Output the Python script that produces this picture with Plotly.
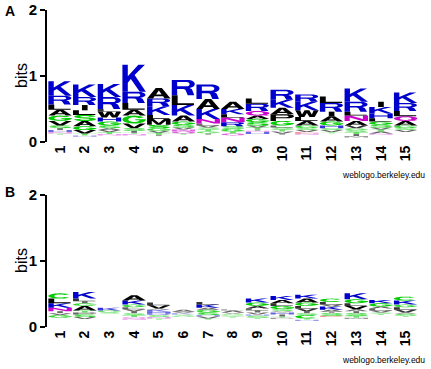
import math
import plotly.graph_objects as go

# ---------------- data ----------------
positions = list(range(1, 16))
tick_labels = [str(p) for p in positions]

# Panel A: residues per position (top -> bottom) and their heights (bits)
a_letters = ["KRLAGVSIHNT", "KRILSAGVTH", "KRLWHGSAVTN", "KRLAGVSITN", "ARKLMSGVTI",
             "RLKAGSVNQT", "RAKNLVSTGI", "AKLNRSGTQ", "LRQAGSVTINH", "RKAPGLSTVI",
             "RKWLAGSVEN", "LRIAGHSVT", "KRLNAVGSTIM", "IKHLGSVTAN", "KRLQAGSV"]
a_heights = [[.22, .13, .08, .09, .08, .07, .04, .03, .03, .02, .02],
             [.19, .12, .08, .07, .09, .08, .06, .05, .03, .02],
             [.20, .18, .04, .09, .06, .06, .04, .03, .03, .03, .02],
             [.41, .17, .10, .09, .12, .07, .04, .03, .02, .02],
             [.16, .12, .13, .06, .09, .05, .04, .03, .03, .02],
             [.23, .15, .16, .09, .05, .04, .03, .03, .03, .02],
             [.22, .15, .15, .07, .03, .03, .03, .03, .03, .02],
             [.11, .08, .05, .07, .06, .04, .04, .03, .03],
             [.08, .11, .07, .05, .05, .05, .03, .03, .02, .02, .03],
             [.15, .12, .10, .10, .07, .03, .03, .03, .03, .02],
             [.11, .13, .10, .06, .07, .04, .03, .03, .02, .02],
             [.10, .13, .07, .08, .06, .04, .03, .03, .02],
             [.20, .15, .06, .08, .07, .04, .03, .03, .03, .03, .02],
             [.08, .10, .07, .05, .05, .04, .03, .03, .03, .02],
             [.16, .12, .08, .07, .07, .04, .03, .03]]
a_base = [.11, .08, .10, .10, .09, .11, .11, .10, .12, .11, .11, .13, .07, .11, .15]

# Panel B
b_letters = ["CLKNIVG", "KLIGATPSV", "KGS", "AKGLVISTQN", "LVAKHRSNT",
             "AVKSG", "LKAGSHVT", "LAVSGT", "KGALIVHST", "KALGSVHITP",
             "KAGLVISCTH", "CLVKAISE", "KGLVAISTM", "KGALVST", "CKGLVAST"]
b_heights = [[.08, .07, .07, .05, .03, .03, .04],
             [.10, .04, .03, .04, .07, .03, .03, .04, .03],
             [.04, .03, .02],
             [.08, .06, .04, .03, .03, .03, .03, .03, .02, .02],
             [.04, .05, .02, .03, .03, .02, .03, .02, .02],
             [.03, .02, .02, .02, .02],
             [.04, .05, .03, .04, .04, .02, .03, .02],
             [.02, .03, .02, .02, .02, .02],
             [.06, .05, .04, .03, .03, .03, .02, .03, .02],
             [.06, .05, .04, .05, .03, .02, .03, .03, .02, .02],
             [.06, .06, .05, .04, .04, .03, .03, .05, .02, .02],
             [.05, .04, .03, .05, .03, .02, .04, .02],
             [.09, .06, .04, .05, .03, .03, .04, .03, .02],
             [.05, .05, .03, .03, .03, .02, .02],
             [.06, .06, .04, .04, .04, .02, .03, .02]]
b_base = [.14, .12, .20, .11, .11, .15, .11, .14, .12, .12, .09, .15, .12, .18, .15]

# ---------------- styling ----------------
COLORS = {}
for c in "KRH":
    COLORS[c] = "#0000CC"
for c in "DE":
    COLORS[c] = "#CC0000"
for c in "GSTYC":
    COLORS[c] = "#00CC00"
for c in "NQ":
    COLORS[c] = "#CC00CC"
for c in "AVLIPWFM":
    COLORS[c] = "#000000"


def ell(cx, cy, rx, ry, a0, a1, n=24):
    pts = []
    for i in range(n + 1):
        t = math.radians(a0 + (a1 - a0) * i / n)
        pts.append((cx + rx * math.cos(t), cy + ry * math.sin(t)))
    return pts


GLYPHS = {
    "K": [([(0, 0), (.23, 0), (.23, .34), (.36, .47), (.74, 0), (1, 0), (.52, .62), (.96, 1),
            (.68, 1), (.23, .58), (.23, 1), (0, 1)], False)],
    "R": [([(0, 0), (.23, 0), (.23, .41), (.5, .41), (.58, .36), (.68, 0), (.96, 0), (.86, .38),
            (.76, .47)] + ell(.68, .73, .3, .27, -60, 90) + [(0, 1)], False),
          ([(.23, .58), (.64, .58)] + ell(.64, .72, .12, .14, -90, 90)[1:-1] + [(.64, .86), (.23, .86)], True)],
    "L": [([(0, 0), (.95, 0), (.95, .19), (.25, .19), (.25, 1), (0, 1)], False)],
    "A": [([(0, 0), (.25, 0), (.32, .21), (.68, .21), (.75, 0), (1, 0), (.63, 1), (.37, 1)], False),
          ([(.38, .38), (.62, .38), (.5, .76)], True)],
    "W": [([(0, 1), (.17, 0), (.39, 0), (.5, .58), (.61, 0), (.83, 0), (1, 1), (.79, 1), (.71, .38),
            (.6, 1), (.4, 1), (.29, .38), (.21, 1)], False)],
    "I": [([(.38, 0), (.62, 0), (.62, 1), (.38, 1)], False)],
    "V": [([(0, 1), (.37, 0), (.63, 0), (1, 1), (.75, 1), (.5, .27), (.25, 1)], False)],
    "M": [([(0, 0), (.2, 0), (.2, .7), (.42, 0), (.58, 0), (.8, .7), (.8, 0), (1, 0), (1, 1), (.72, 1),
            (.5, .32), (.28, 1), (0, 1)], False)],
    "N": [([(0, 0), (.22, 0), (.22, .65), (.75, 0), (1, 0), (1, 1), (.78, 1), (.78, .35), (.25, 1),
            (0, 1)], False)],
    "T": [([(.38, 0), (.62, 0), (.62, .8), (1, .8), (1, 1), (0, 1), (0, .8), (.38, .8)], False)],
    "E": [([(0, 0), (1, 0), (1, .2), (.24, .2), (.24, .42), (.9, .42), (.9, .6), (.24, .6), (.24, .8),
            (1, .8), (1, 1), (0, 1)], False)],
    "F": [([(0, 0), (.24, 0), (.24, .42), (.9, .42), (.9, .6), (.24, .6), (.24, .8), (1, .8), (1, 1),
            (0, 1)], False)],
    "H": [([(0, 0), (.22, 0), (.22, .4), (.78, .4), (.78, 0), (1, 0), (1, 1), (.78, 1), (.78, .6),
            (.22, .6), (.22, 1), (0, 1)], False)],
    "Y": [([(0, 1), (.37, .42), (.37, 0), (.63, 0), (.63, .42), (1, 1), (.73, 1), (.5, .64), (.27, 1)], False)],
    "P": [([(0, 0), (.23, 0), (.23, .38), (.7, .38)] + ell(.7, .69, .3, .31, -90, 90) + [(0, 1)], False),
          ([(.23, .56), (.65, .56)] + ell(.65, .69, .12, .13, -90, 90)[1:-1] + [(.65, .82), (.23, .82)], True)],
    "D": [([(0, 0), (.6, 0)] + ell(.6, .5, .4, .5, -90, 90) + [(0, 1)], False),
          ([(.23, .19), (.55, .19)] + ell(.55, .5, .22, .31, -90, 90)[1:-1] + [(.55, .81), (.23, .81)], True)],
    "O": [(ell(.5, .5, .5, .5, 0, 360, 40)[:-1], False), (ell(.5, .5, .25, .3, 0, 360, 40)[:-1], True)],
    "Q": [(ell(.5, .5, .5, .5, 0, 360, 40)[:-1], False), (ell(.5, .5, .25, .3, 0, 360, 40)[:-1], True),
          ([(.58, .3), (.75, .3), (1, .02), (.82, .02)], False)],
    "C": [(ell(.5, .5, .5, .5, 40, 320, 30) + ell(.5, .5, .25, .3, 320, 40, 30), False)],
    "G": [(ell(.5, .5, .5, .5, 35, 360, 30) + [(1, .55), (.55, .55), (.55, .4)] +
           ell(.5, .5, .25, .3, 340, 35, 30), False)],
    "S": [([(.05, .28), (.05, .18), (.2, .03), (.5, 0), (.8, .03), (.95, .15), (.98, .3), (.9, .45),
            (.7, .55), (.35, .63), (.3, .7), (.35, .8), (.5, .82), (.65, .79), (.7, .7), (.95, .7),
            (.9, .87), (.75, .97), (.5, 1), (.25, .97), (.1, .87), (.05, .72), (.1, .55), (.3, .45),
            (.65, .37), (.72, .3), (.66, .2), (.5, .18), (.35, .21), (.28, .3)], False)],
}


def signed_area(pts):
    a = 0.0
    for i in range(len(pts)):
        x1, y1 = pts[i]
        x2, y2 = pts[(i + 1) % len(pts)]
        a += x1 * y2 - x2 * y1
    return a / 2


def glyph_path(letter, x0, x1, y0, y1):
    parts = []
    for pts, hole in GLYPHS[letter]:
        area = signed_area(pts)
        if (area < 0) != hole:
            pts = pts[::-1]
        mapped = [(x0 + px * (x1 - x0), y0 + py * (y1 - y0)) for px, py in pts]
        parts.append("M" + " L".join(f"{x:.4f},{y:.4f}" for x, y in mapped) + " Z")
    return " ".join(parts)


COL_W = 0.95


def logo_shapes(letters, heights, base, xref, yref):
    shapes = []
    for pos, lets, hs, b in zip(positions, letters, heights, base):
        y = b
        for let, h in reversed(list(zip(lets, hs))):
            op = max(0.4, min(1.0, h / 0.05))
            shapes.append(dict(type="path", xref=xref, yref=yref,
                               path=glyph_path(let, pos - COL_W / 2, pos + COL_W / 2, y, y + h),
                               fillcolor=COLORS[let], opacity=op, line=dict(width=0),
                               fillrule="nonzero", layer="above"))
            y += h
    return shapes


fig = go.Figure()
a_tot = [b + sum(h) for b, h in zip(a_base, a_heights)]
b_tot = [b + sum(h) for b, h in zip(b_base, b_heights)]
fig.add_trace(go.Scatter(x=positions, y=a_tot, mode="markers", marker=dict(opacity=0),
                         hoverinfo="skip", showlegend=False, xaxis="x", yaxis="y"))
fig.add_trace(go.Scatter(x=positions, y=b_tot, mode="markers", marker=dict(opacity=0),
                         hoverinfo="skip", showlegend=False, xaxis="x2", yaxis="y2"))

shapes = logo_shapes(a_letters, a_heights, a_base, "x", "y") + \
    logo_shapes(b_letters, b_heights, b_base, "x2", "y2")

W, H = 431, 369
FONT = "Liberation Sans, Arial, Helvetica, sans-serif"
xdom = [47 / W, 418 / W]
xcommon = dict(range=[0.47, 15.5], tickmode="array", tickvals=positions, ticktext=tick_labels,
               tickangle=-90, showgrid=False, zeroline=False, showline=False, ticks="",
               tickfont=dict(family=FONT, size=14, color="black", weight="bold"), domain=xdom,
               fixedrange=True, automargin=False)
ycommon = dict(range=[0, 2], tickmode="array", tickvals=[0, 1, 2], ticktext=["0", "1", "2"],
               showgrid=False, zeroline=False, showline=True, linecolor="black", linewidth=2,
               ticks="outside", ticklen=5, tickwidth=2, tickcolor="black",
               tickfont=dict(family=FONT, size=15, color="black", weight="bold"), fixedrange=True,
               automargin=False)

annots = []
for lab, ytop, yb, yw in [("A", 11, 76, 175), ("B", 192, 261, 360)]:
    annots.append(dict(text=f"<b>{lab}</b>", x=10 / W, y=1 - ytop / H, xref="paper", yref="paper",
                       showarrow=False, font=dict(family=FONT, size=14, color="black"),
                       xanchor="center", yanchor="middle"))
    annots.append(dict(text="bits", x=21 / W, y=1 - yb / H, xref="paper", yref="paper",
                       showarrow=False, textangle=-90, font=dict(family=FONT, size=16, color="black"),
                       xanchor="center", yanchor="middle"))
    annots.append(dict(text="weblogo.berkeley.edu", x=427 / W, y=1 - yw / H, xref="paper",
                       yref="paper", showarrow=False, font=dict(family=FONT, size=8.5, color="black"),
                       xanchor="right", yanchor="middle"))

fig.update_layout(
    width=W, height=H, margin=dict(l=0, r=0, t=0, b=0, autoexpand=False),
    paper_bgcolor="white", plot_bgcolor="white", showlegend=False,
    xaxis=dict(anchor="y", **xcommon),
    yaxis=dict(anchor="x", domain=[1 - 142 / H, 1 - 10 / H], **ycommon),
    xaxis2=dict(anchor="y2", **xcommon),
    yaxis2=dict(anchor="x2", domain=[1 - 327 / H, 1 - 195 / H], **ycommon),
    shapes=shapes, annotations=annots,
)

fig.write_html("out.html", config={"displayModeBar": False},
               post_script="document.body.style.margin='0px';")
